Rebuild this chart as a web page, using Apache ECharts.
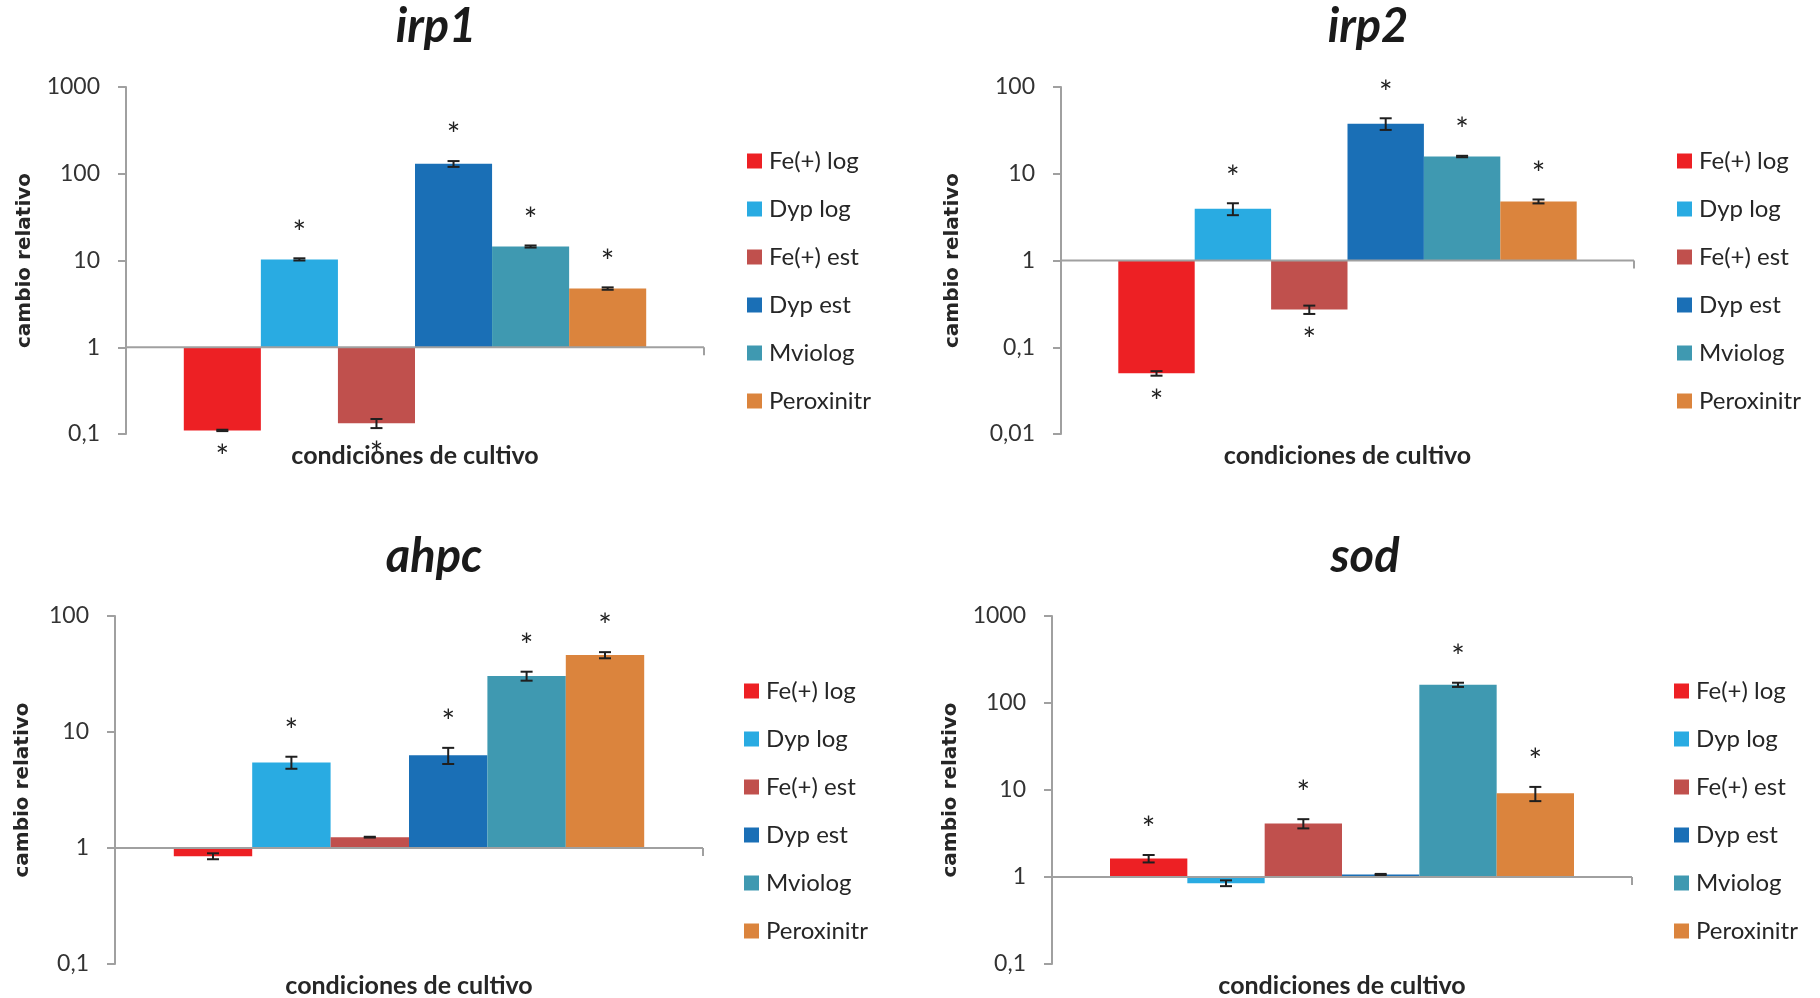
<!DOCTYPE html>
<html>
<head>
<meta charset="utf-8">
<script src="https://cdn.jsdelivr.net/npm/echarts/dist/echarts.min.js"></script>
<style>
  html, body { margin: 0; padding: 0; background: #ffffff; }
  #chart { width: 1820px; height: 998px; }
</style>
</head>
<body>
<div id="chart"></div>
<script>
// Culture conditions (one bar each) and their colours
const conditions = ['Fe(+) log', 'Dyp log', 'Fe(+) est', 'Dyp est', 'Mviolog', 'Peroxinitr'];
const barColors = ['#ED2024', '#29ABE2', '#C0504D', '#1A6FB6', '#3F99B1', '#DB843D'];

const geneNames = ['irp1', 'irp2', 'ahpc', 'sod'];
const yAxisTitle = 'cambio relativo';
const xAxisTitle = 'condiciones de cultivo';

// irp1
const irp1Values = [0.11, 10.3, 0.133, 130, 14.5, 4.75];
const irp1Errors = [0.002, 0.3, 0.016, 10, 0.4, 0.15];
const irp1Signif = [1, 1, 1, 1, 1, 1];
const irp1Range = [0.1, 1000];
const irp1Ticks = ['0,1', '1', '10', '100', '1000'];

// irp2
const irp2Values = [0.05, 3.95, 0.272, 37.8, 15.8, 4.8];
const irp2Errors = [0.003, 0.62, 0.03, 5.8, 0.3, 0.25];
const irp2Signif = [1, 1, 1, 1, 1, 1];
const irp2Range = [0.01, 100];
const irp2Ticks = ['0,01', '0,1', '1', '10', '100'];

// ahpc
const ahpcValues = [0.85, 5.47, 1.24, 6.3, 30.4, 46];
const ahpcErrors = [0.05, 0.65, 0.01, 1.0, 2.7, 2.8];
const ahpcSignif = [0, 1, 0, 1, 1, 1];
const ahpcRange = [0.1, 100];
const ahpcTicks = ['0,1', '1', '10', '100'];

// sod
const sodValues = [1.63, 0.85, 4.12, 1.07, 162, 9.15];
const sodErrors = [0.16, 0.065, 0.5, 0.015, 9, 1.7];
const sodSignif = [1, 0, 1, 0, 1, 1];
const sodRange = [0.1, 1000];
const sodTicks = ['0,1', '1', '10', '100', '1000'];

const panelData = [
  { values: irp1Values, errors: irp1Errors, signif: irp1Signif, range: irp1Range, ticks: irp1Ticks },
  { values: irp2Values, errors: irp2Errors, signif: irp2Signif, range: irp2Range, ticks: irp2Ticks },
  { values: ahpcValues, errors: ahpcErrors, signif: ahpcSignif, range: ahpcRange, ticks: ahpcTicks },
  { values: sodValues, errors: sodErrors, signif: sodSignif, range: sodRange, ticks: sodTicks }
];

// Placement of the four panels on the page
const layouts = [
  { left: 126,  top: 87,  width: 578, height: 347, nameGap: 91, legendLeft: 747,  legendTop: 149, titleX: 436,  titleY: 27 },
  { left: 1061, top: 87,  width: 573, height: 347, nameGap: 98, legendLeft: 1677, legendTop: 149, titleX: 1368, titleY: 27 },
  { left: 115,  top: 616, width: 588, height: 348, nameGap: 82, legendLeft: 744,  legendTop: 679, titleX: 434,  titleY: 557 },
  { left: 1052, top: 616, width: 580, height: 348, nameGap: 91, legendLeft: 1674, legendTop: 679, titleX: 1365, titleY: 557 }
];

const AXIS_GREY = '#A0A0A0';
const INK = '#262626';
const GROUP_SHARE = 0.8;           // bars fill 80% of the category band
const STAR_ABOVE = 34;             // asterisk distance over an upward error bar
const STAR_BELOW = 18;             // asterisk distance under a downward error bar
const STAR_FONT = 32;

const grids = [], xAxes = [], yAxes = [], series = [], legends = [], graphics = [];

layouts.forEach((lay, p) => {
  const d = panelData[p];
  grids.push({ left: lay.left, top: lay.top, width: lay.width, height: lay.height,
               containLabel: false, outerBoundsMode: 'none' });

  xAxes.push({
    type: 'category', gridIndex: p, data: [''],
    axisLine: { show: false }, axisTick: { show: false }, axisLabel: { show: false },
    splitLine: { show: false },
    name: xAxisTitle, nameLocation: 'middle', nameGap: 9, nameMoveOverlap: false,
    nameTextStyle: { fontFamily: 'Lato', fontWeight: 'bold', fontSize: 25, color: INK, verticalAlign: 'top' }
  });

  yAxes.push({
    type: 'log', logBase: 10, gridIndex: p, min: d.range[0], max: d.range[1],
    axisLine: { show: true, lineStyle: { color: AXIS_GREY, width: 2 } },
    axisTick: { show: true, inside: false, length: 8, lineStyle: { color: AXIS_GREY, width: 2 } },
    minorTick: { show: false },
    splitLine: { show: false },
    axisLabel: {
      margin: 26, fontFamily: 'Lato', fontSize: 23, color: '#333333',
      formatter: (v, i) => d.ticks[i] !== undefined ? d.ticks[i] : String(v).replace('.', ',')
    },
    name: yAxisTitle, nameLocation: 'middle', nameRotate: 90, nameGap: lay.nameGap, nameMoveOverlap: false,
    nameTextStyle: { fontFamily: 'DejaVu Sans', fontWeight: 'bold', fontSize: 20, color: INK }
  });

  conditions.forEach((c, i) => {
    series.push({
      type: 'bar', name: c, xAxisIndex: p, yAxisIndex: p,
      data: [d.values[i]],
      barGap: '0%', barCategoryGap: '20%',
      itemStyle: { color: barColors[i] },
      emphasis: { disabled: true }
    });
  });

  // Error bars, significance asterisks and the baseline at 1
  series.push({
    type: 'custom', name: 'err' + p, xAxisIndex: p, yAxisIndex: p, z: 5,
    silent: true,
    data: d.values.map((v, i) => [0, v, d.errors[i], d.signif[i], i]),
    encode: { x: 0, y: 1 },
    renderItem: (params, api) => {
      const i = api.value(4);
      const v = api.value(1), e = api.value(2), s = api.value(3);
      const mid = api.coord([0, v]);
      const band = api.size([1, 0])[0];
      const barW = band * GROUP_SHARE / conditions.length;
      const x = mid[0] - band * GROUP_SHARE / 2 + (i + 0.5) * barW;
      const yHi = api.coord([0, v + e])[1];
      const yLo = api.coord([0, v - e])[1];
      const cap = 6;
      const ls = { stroke: '#1f1f1f', lineWidth: 2 };
      const children = [
        { type: 'line', shape: { x1: x, y1: yHi, x2: x, y2: yLo }, style: ls },
        { type: 'line', shape: { x1: x - cap, y1: yHi, x2: x + cap, y2: yHi }, style: ls },
        { type: 'line', shape: { x1: x - cap, y1: yLo, x2: x + cap, y2: yLo }, style: ls }
      ];
      if (s) {
        const yc = v >= 1 ? yHi - STAR_ABOVE : yLo + STAR_BELOW;
        children.push({ type: 'text', x: x, y: yc + STAR_FONT * 0.28,
          style: { text: '*', font: STAR_FONT + 'px Lato', fill: '#1f1f1f', align: 'center', verticalAlign: 'middle' } });
      }
      if (i === 0) {
        const yBase = api.coord([0, 1])[1];
        const xL = mid[0] - band / 2, xR = mid[0] + band / 2;
        const bs = { stroke: AXIS_GREY, lineWidth: 2 };
        children.push({ type: 'line', shape: { x1: xL, y1: yBase, x2: xR, y2: yBase }, style: bs });
        children.push({ type: 'line', shape: { x1: xR, y1: yBase, x2: xR, y2: yBase + 8 }, style: bs });
      }
      return { type: 'group', children: children };
    }
  });

  legends.push({
    orient: 'vertical', left: lay.legendLeft, top: lay.legendTop, padding: 0,
    icon: 'rect', itemWidth: 15, itemHeight: 15, itemGap: 24,
    selectedMode: false, data: conditions,
    textStyle: { fontFamily: 'Lato', fontSize: 24, color: INK, padding: [0, 0, 0, 2] }
  });

  graphics.push({
    type: 'text', x: lay.titleX, y: lay.titleY,
    style: { text: geneNames[p], font: 'italic bold 47px Lato', fill: '#1a1a1a', align: 'center', verticalAlign: 'middle' }
  });
});

const chart = echarts.init(document.getElementById('chart'), null, { renderer: 'canvas' });
chart.setOption({
  animation: false,
  backgroundColor: '#ffffff',
  grid: grids,
  xAxis: xAxes,
  yAxis: yAxes,
  legend: legends,
  graphic: graphics,
  series: series
});
</script>
</body>
</html>
